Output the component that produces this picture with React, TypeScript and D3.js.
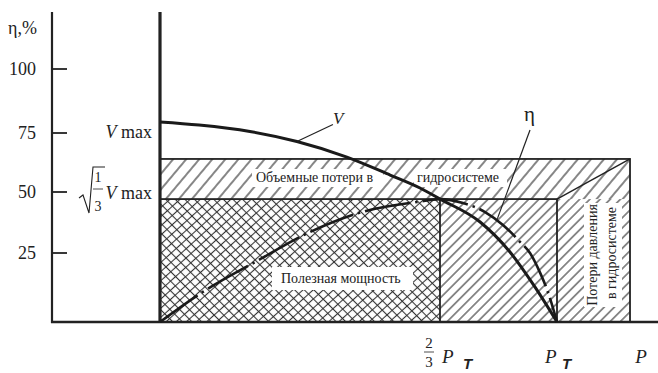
import React from "react";
import * as d3 from "d3";

const width = 658;
const height = 373;

// eta scale ticks, %
const etaTicks = [25, 50, 75, 100];

// flow curve V: P as a share of P_T, V on the % scale
const vP = [0, 0.093, 0.214, 0.326, 0.445, 0.548, 0.619, 0.667, 0.781, 0.866, 0.937, 1.0];
const vValues = [79.3, 78.1, 75.6, 71.4, 64.8, 57.2, 51.7, 47.1, 37.7, 25.4, 12.7, 0];

// efficiency curve eta
const etaP = [0, 0.102, 0.226, 0.357, 0.481, 0.612, 0.667, 0.732, 0.795, 0.846, 0.895, 0.923, 0.952, 0.972, 1.0];
const etaValues = [0, 10.9, 21.7, 33.6, 41.8, 45.9, 47.1, 45.5, 41.8, 36.5, 29.5, 25, 17.8, 11.6, 0];

// levels and edges of the loss blocks
const vOpt = 47.1; // sqrt(1/3) Vmax
const lossTop = 64;
const pOpt = 2 / 3;
const pT = 1;
const pEnd = 1.208;
const pAxisLabel = 1.24;

const serif = "'Liberation Serif', 'Times New Roman', 'DejaVu Serif', 'Noto Serif', Tinos, FreeSerif, serif";
const sans = "'Liberation Sans', Arial, 'DejaVu Sans', sans-serif";

export default function App() {
  const x = d3.scaleLinear().domain([0, pOpt, pT]).range([160, 440, 557]);
  const y = d3.scaleLinear().domain([0, 25, 50, 75, 100]).range([322, 253, 192, 133, 69]);
  const axisX = 52;

  const line = d3
    .line<[number, number]>()
    .x((d) => x(d[0]))
    .y((d) => y(d[1]))
    .curve(d3.curveMonotoneX);

  const vPath = line(d3.zip(vP, vValues) as [number, number][]) || "";
  const etaPath = line(d3.zip(etaP, etaValues) as [number, number][]) || "";

  const x0 = x(0), xO = x(pOpt), xT = x(pT), xE = x(pEnd);
  const yB = y(0), yO = y(vOpt), yL = y(lossTop);

  // "2/3 P T" style label under the axis
  const pLabel = (px: number, key: string, frac: boolean) => (
    <g key={key} transform={`translate(${px},0)`}>
      {frac && (
        <g>
          <text x={-11} y={348} fontSize={15} textAnchor="middle">2</text>
          <line x1={-16} x2={-6} y1={352} y2={352} stroke="#222" strokeWidth={0.8} />
          <text x={-11} y={367} fontSize={15} textAnchor="middle">3</text>
        </g>
      )}
      <text x={frac ? 2 : -12} y={363} fontSize={19} fontStyle="italic">P</text>
      <text x={frac ? 23 : 5} y={369} fontSize={15} fontStyle="italic" fontWeight="bold" style={{ fontFamily: sans }}>T</text>
    </g>
  );

  return (
    <svg
      width={width}
      height={height}
      style={{ position: "absolute", left: 0, top: 0, background: "#fff", fontFamily: serif }}
      fill="#222"
    >
      <defs>
        <pattern id="hatchTop" patternUnits="userSpaceOnUse" width={10} height={10} patternTransform="rotate(40)">
          <line x1={5} y1={0} x2={5} y2={10} stroke="#222" strokeWidth={1.1} />
        </pattern>
        <pattern id="hatchSide" patternUnits="userSpaceOnUse" width={7.2} height={7.2} patternTransform="rotate(45)">
          <line x1={3.6} y1={0} x2={3.6} y2={7.2} stroke="#222" strokeWidth={1} />
        </pattern>
        <pattern id="crossA" patternUnits="userSpaceOnUse" width={6.8} height={6.8} patternTransform="rotate(48)">
          <line x1={3.4} y1={0} x2={3.4} y2={6.8} stroke="#333" strokeWidth={1.1} />
        </pattern>
        <pattern id="crossB" patternUnits="userSpaceOnUse" width={6.8} height={6.8} patternTransform="rotate(-45)">
          <line x1={3.4} y1={0} x2={3.4} y2={6.8} stroke="#333" strokeWidth={1.1} />
        </pattern>
      </defs>

      {/* hatched loss areas */}
      <rect x={x0} y={yL} width={xE - x0} height={yO - yL} fill="url(#hatchTop)" />
      <rect x={xO} y={yO} width={xE - xO} height={yB - yO} fill="url(#hatchSide)" />
      <rect x={x0} y={yO} width={xO - x0} height={yB - yO} fill="url(#crossA)" />
      <rect x={x0} y={yO} width={xO - x0} height={yB - yO} fill="url(#crossB)" />

      {/* label backgrounds */}
      <rect x={252} y={169} width={131} height={18} fill="#fff" />
      <rect x={414} y={169} width={93} height={18} fill="#fff" />
      <rect x={272} y={267} width={141} height={23} fill="#fff" />
      <rect x={584} y={203} width={38} height={104} fill="#fff" />

      {/* block outlines */}
      <g fill="none" stroke="#222" strokeWidth={1.8}>
        <rect x={x0} y={yL} width={xE - x0} height={yB - yL} />
        <rect x={x0} y={yO} width={xT - x0} height={yB - yO} />
        <line x1={xO} x2={xO} y1={yO} y2={yB} />
        <line x1={xT} x2={xE} y1={yO} y2={yL} strokeWidth={1.4} />
      </g>

      {/* axes */}
      <g stroke="#222">
        <line x1={axisX} x2={axisX} y1={12} y2={yB + 1} strokeWidth={2.2} />
        <line x1={axisX - 1} x2={width} y1={yB} y2={yB} strokeWidth={2.6} />
        <line x1={x0} x2={x0} y1={12} y2={yB + 1} strokeWidth={3.2} />
        {etaTicks.map((t) => (
          <line key={t} x1={axisX} x2={axisX + 15} y1={y(t)} y2={y(t)} strokeWidth={1.8} />
        ))}
      </g>
      {etaTicks.map((t) => (
        <text key={t} x={36} y={y(t) + 6} fontSize={18} textAnchor="end">{t}</text>
      ))}
      <text x={8} y={34} fontSize={18}>η,%</text>

      {/* V level labels */}
      <text x={152} y={138} fontSize={18} textAnchor="end">
        <tspan fontStyle="italic">V</tspan> max
      </text>
      <text x={152} y={199} fontSize={18} textAnchor="end">
        <tspan fontStyle="italic">V</tspan> max
      </text>
      <path d="M79,198 L83,195 L89,213 L93,167 L105,167" fill="none" stroke="#222" strokeWidth={1.1} />
      <text x={98} y={182} fontSize={14} textAnchor="middle">1</text>
      <line x1={93} x2={103} y1={189} y2={189} stroke="#222" strokeWidth={0.8} />
      <text x={98} y={211} fontSize={14} textAnchor="middle">3</text>

      {/* curves */}
      <path d={vPath} fill="none" stroke="#1a1a1a" strokeWidth={3} />
      <path d={etaPath} fill="none" stroke="#1a1a1a" strokeWidth={2.6} strokeDasharray="46 5 2.5 5" />

      {/* curve labels */}
      <line x1={x(0.326)} y1={y(71.4)} x2={x(0.326) + 36} y2={y(71.4) - 17} stroke="#222" strokeWidth={1.2} />
      <text x={333} y={124} fontSize={17} fontStyle="italic">V</text>
      <line x1={x(0.83)} y1={y(39)} x2={530} y2={130} stroke="#222" strokeWidth={1.2} />
      <text x={524} y={121} fontSize={21}>η</text>

      {/* block labels */}
      <text x={256} y={182} fontSize={14}>Объемные потери в</text>
      <text x={417} y={182} fontSize={14}>гидросистеме</text>
      <text x={281} y={283} fontSize={14}>Полезная мощность</text>
      <text transform="translate(597,255) rotate(-90)" fontSize={14} textAnchor="middle">Потери давления</text>
      <text transform="translate(616,253) rotate(-90)" fontSize={14} textAnchor="middle">в гидросистеме</text>

      {/* pressure axis labels */}
      {pLabel(xO, "opt", true)}
      {pLabel(xT, "pt", false)}
      <text x={x(pAxisLabel) - 6} y={363} fontSize={19} fontStyle="italic">P</text>
    </svg>
  );
}
